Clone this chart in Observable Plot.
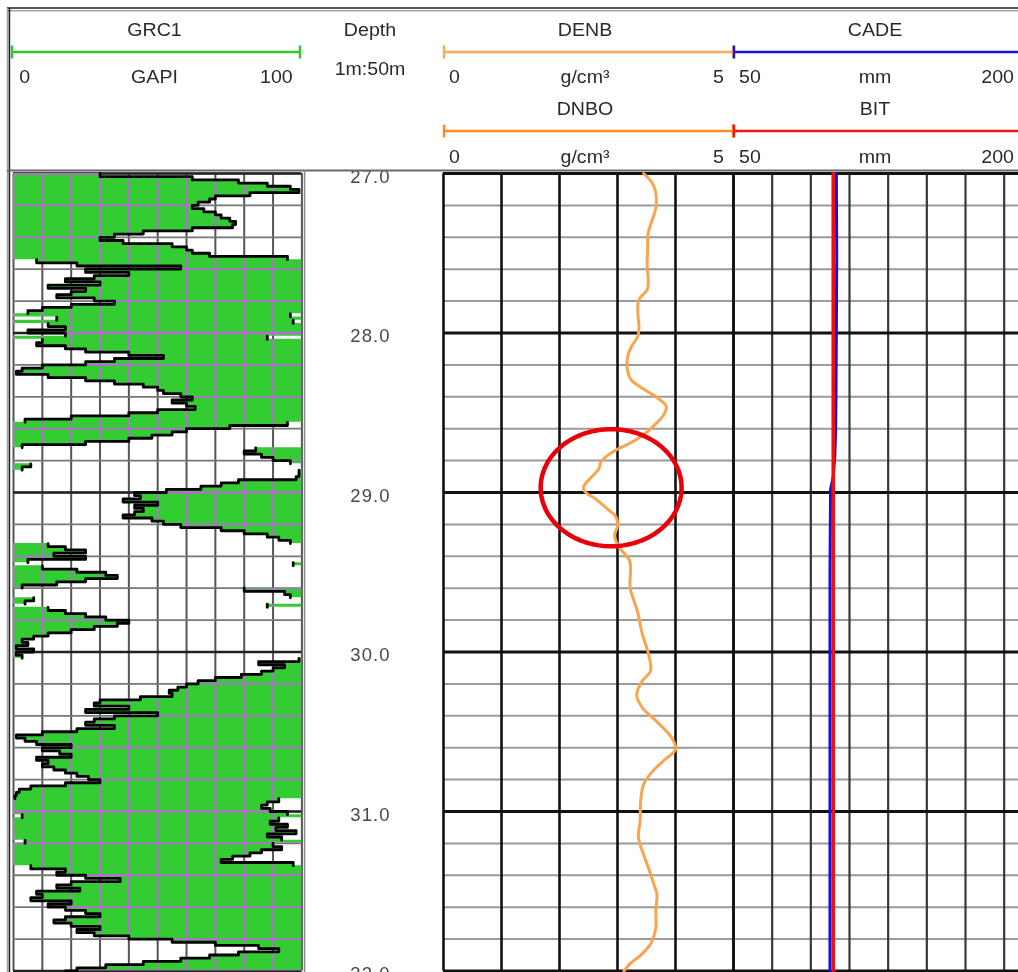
<!DOCTYPE html>
<html>
<head>
<meta charset="utf-8">
<title>GRC1 / DENB / CADE log, 27–32 m</title>
<script src="https://cdn.jsdelivr.net/npm/d3@7"></script>
<script src="https://cdn.jsdelivr.net/npm/@observablehq/plot@0.6"></script>
<style>
  html, body { margin: 0; padding: 0; background: #fff; overflow: hidden; }
  #log { position: relative; width: 1018px; height: 972px; overflow: hidden; background: #fff; }
  #log > svg { position: absolute; }
  #log svg.depth-track text { letter-spacing: 1.1px; }
</style>
</head>
<body>
<div id="log"></div>
<script>
// ---------------------------------------------------------------------------
// Curve data
// ---------------------------------------------------------------------------

// GRC1 gamma ray (GAPI), one sample every 0.02 m starting at 27.00 m.
// Readings above 100 GAPI wrap back across the 0–100 track.
const grTop = 27.0;
const grStep = 0.02;
const grValue = [
  30, 62, 78, 88, 96, 99, 82, 70, 68, 64,          // 27.00
  62, 66, 70, 72, 75, 77, 76, 62, 45, 35,          // 27.20
  30, 38, 55, 60, 62, 68, 95, 108, 122, 158,       // 27.40
  125, 140, 128, 118, 130, 112, 125, 120, 115, 128,// 27.60
  135, 120, 110, 105, 96, 115, 97, 112, 118, 105,  // 27.80
  118, 88, 110, 108, 118, 125, 140, 152, 135, 125, // 28.00
  110, 103, 101, 112, 125, 135, 145, 150, 152, 158,// 28.20
  162, 155, 160, 163, 150, 140, 120, 104, 95, 75,  // 28.40
  60, 55, 48, 40, 25, 3, 184, 180, 186, 190,       // 28.60
  196, 206, 203, 199, 199, 198, 178, 172, 165, 153,// 28.80
  142, 144, 138, 150, 142, 145, 142, 138, 148, 152,// 29.00
  158, 172, 180, 188, 192, 196, 212, 218, 225, 214,// 29.20
  225, 205, 197, 210, 222, 232, 236, 225, 215, 203,// 29.40
  180, 194, 196, 207, 204, 188, 212, 218, 225, 232,// 29.60
  240, 236, 228, 220, 212, 207, 203, 205, 201, 207,// 29.80
  201, 203, 199, 185, 194, 190, 186, 179, 170, 164,// 30.00
  160, 157, 154, 155, 144, 130, 128, 140, 125, 150,// 30.20
  135, 128, 125, 135, 122, 110, 101, 104, 108, 120,// 30.40
  110, 116, 120, 108, 112, 110, 114, 118, 122, 126,// 30.60
  130, 118, 106, 102, 101, 100.5, 92, 88, 86, 89,  // 30.80
  95, 103, 92, 89, 95, 91, 98, 88, 93, 104,        // 31.00
  90, 93, 86, 82, 76, 72, 97, 106, 118, 115,       // 31.20
  125, 137, 120, 115, 123, 108, 110, 106, 120, 112,// 31.40
  118, 125, 130, 118, 114, 120, 130, 122, 128, 140,// 31.60
  155, 170, 185, 192, 178, 168, 158, 145, 132, 122,// 31.80
  118                                              // 32.00
];

// DENB bulk density (g/cm³)
const denbDepth = [27.00, 27.06, 27.12, 27.16, 27.22, 27.29, 27.37, 27.48, 27.58, 27.66,
                   27.73, 27.79, 27.87, 27.96, 28.02, 28.08, 28.14, 28.23, 28.29, 28.34,
                   28.40, 28.46, 28.51, 28.57, 28.63, 28.69, 28.73, 28.77, 28.81, 28.85,
                   28.90, 28.96, 28.99, 29.04, 29.11, 29.15, 29.21, 29.27, 29.34, 29.43,
                   29.60, 29.74, 29.89, 30.02, 30.12, 30.18, 30.27, 30.35, 30.43, 30.54,
                   30.61, 30.68, 30.75, 30.83, 30.93, 31.06, 31.16, 31.27, 31.35, 31.46,
                   31.52, 31.62, 31.73, 31.83, 31.90, 31.96, 32.00];
const denbValue = [3.45, 3.60, 3.66, 3.67, 3.66, 3.60, 3.53, 3.52, 3.51, 3.53,
                   3.51, 3.37, 3.35, 3.37, 3.35, 3.25, 3.18, 3.17, 3.23, 3.40,
                   3.66, 3.84, 3.80, 3.66, 3.48, 3.22, 2.99, 2.82, 2.71, 2.68,
                   2.56, 2.42, 2.43, 2.62, 2.85, 2.97, 3.00, 2.95, 3.02, 3.21,
                   3.22, 3.34, 3.43, 3.54, 3.57, 3.43, 3.33, 3.43, 3.66, 3.94,
                   4.00, 3.80, 3.60, 3.45, 3.40, 3.39, 3.36, 3.45, 3.53, 3.63,
                   3.68, 3.66, 3.66, 3.57, 3.40, 3.20, 3.11];

// CADE caliper (mm)
const cadeDepth = [27.00, 27.50, 28.00, 28.40, 28.63, 28.77, 28.90, 28.98, 29.50, 30.50, 31.50, 32.00];
const cadeValue = [103.2, 103.4, 103.2, 103.0, 102.8, 102.4, 101.6, 100.2, 99.9, 99.9, 99.9, 99.9];

// BIT size (mm)
const bitDepth = [27.00, 32.00];
const bitValue = [101.6, 101.6];

// Depth annotation and grid
const depthLabels = [27, 28, 29, 30, 31, 32];
const depthMinor = d3.range(0, 26).map(i => 27 + i * 0.2);
const grGridX = d3.range(0, 101, 10);
const denbGridX = [0, 1, 2, 3, 4, 5];
const cadeGridX = [70, 90, 110, 130, 150, 170, 190];

// Highlighted low-density interval (centre and half-widths in track units)
const highlight = {denb: 2.89, depth: 28.97, rx: 1.215, ry: 0.367};

// Header entries per curve
const headerCurves = [
  {track: "gr",   row: 0, name: "GRC1", unit: "GAPI",  lo: "0",  hi: "100", color: "#33c633"},
  {track: "denb", row: 0, name: "DENB", unit: "g/cm³", lo: "0",  hi: "5",   color: "#f8a957"},
  {track: "cade", row: 0, name: "CADE", unit: "mm",    lo: "50", hi: "200", color: "#1414e6"},
  {track: "denb", row: 1, name: "DNBO", unit: "g/cm³", lo: "0",  hi: "5",   color: "#ff8a1f"},
  {track: "cade", row: 1, name: "BIT",  unit: "mm",    lo: "50", hi: "200", color: "#f01414"}
];

// ---------------------------------------------------------------------------
// Layout
// ---------------------------------------------------------------------------
const trackX = {gr: [13.3, 301.7], depth: [302, 438], denb: [443, 733], cade: [733, 1023]};
const Y0 = 172.5, Y1 = 970;          // pixel rows of 27 m and 32 m
const mT = 3, mB = 3, mL = 3, mR = 3;
const root = document.getElementById("log");

function addTrack(key, xDomain, marks, background = "transparent", cls = null) {
  const [x0, x1] = trackX[key];
  const svg = Plot.plot({
    width: x1 - x0 + mL + mR,
    height: Y1 - Y0 + mT + mB,
    marginLeft: mL, marginRight: mR, marginTop: mT, marginBottom: mB,
    x: {domain: xDomain, axis: null},
    y: {domain: [27, 32], reverse: true, axis: null},
    marks
  });
  svg.style.left = (x0 - mL) + "px";
  svg.style.top = (Y0 - mT) + "px";
  svg.style.background = background;
  svg.style.maxWidth = "none";
  if (cls) svg.classList.add(cls);
  root.appendChild(svg);
  return svg;
}

// ---------------------------------------------------------------------------
// GR track: wrapped curve with shading, grid tinted where it crosses the fill
// ---------------------------------------------------------------------------
const grRows = grValue.map((v, i) => {
  const wrap = Math.floor(v / 100);
  const x = v - 100 * wrap;
  const odd = wrap % 2 === 1;
  return {depth: grTop + i * grStep, v, wrap, x, left: odd ? x : 0, right: odd ? 100 : x};
});
let seg = 0;
grRows.forEach((r, i) => { if (i && r.wrap !== grRows[i - 1].wrap) seg++; r.seg = seg; });
// Line vertices: each wrap band is drawn on its own, holding its last value to the next sample
const grLine = [];
grRows.forEach((r, i) => {
  grLine.push({depth: r.depth, x: r.x, seg: r.seg});
  const n = grRows[i + 1];
  if (n && n.seg !== r.seg) grLine.push({depth: n.depth, x: r.x, seg: r.seg});
});

const tint = {stroke: "#c040e8", strokeOpacity: 0.85, mixBlendMode: "hue", ariaLabel: "gr-grid-tint"};
const grSvg = addTrack("gr", [0, 100], [
  Plot.ruleX(grGridX, {stroke: "#555", strokeWidth: 2}),
  Plot.ruleY(depthMinor, {stroke: "#777", strokeWidth: 1.8}),
  Plot.ruleY(depthLabels, {stroke: "#222", strokeWidth: 2.6}),
  Plot.areaX(grRows, {y: "depth", x1: "left", x2: "right", fill: "#33cc33", curve: "step-before"}),
  Plot.ruleX(grGridX, {...tint, strokeWidth: 2}),
  Plot.ruleY(depthMinor, {...tint, strokeWidth: 1.8}),
  Plot.ruleY(depthLabels, {...tint, strokeWidth: 2.6}),
  Plot.line(grLine, {x: "x", y: "depth", z: "seg", stroke: "#000", strokeWidth: 2.8, curve: "step-before"})
], "#fff");
grSvg.querySelectorAll('[aria-label="gr-grid-tint"]').forEach(g => { g.style.mixBlendMode = "hue"; });

// ---------------------------------------------------------------------------
// Depth track
// ---------------------------------------------------------------------------
addTrack("depth", [0, 1], [
  Plot.text(depthLabels, {
    x: () => 0.5, y: d => d, text: d => d.toFixed(1),
    fontSize: 18.5, fontFamily: "Liberation Sans, Arial, sans-serif",
    fill: "#484848", dy: 3.5
  })
], "transparent", "depth-track");

// ---------------------------------------------------------------------------
// Density track
// ---------------------------------------------------------------------------
const denbRows = denbDepth.map((d, i) => ({depth: d, v: denbValue[i]}));
const ring = d3.range(0, 361, 4).map(a => ({
  x: highlight.denb + highlight.rx * Math.cos(a * Math.PI / 180),
  y: highlight.depth + highlight.ry * Math.sin(a * Math.PI / 180)
}));
addTrack("denb", [0, 5], [
  Plot.ruleY(depthMinor, {stroke: "#9a9a9a", strokeWidth: 2}),
  Plot.ruleX(denbGridX, {stroke: "#111", strokeWidth: 2.6}),
  Plot.ruleY(depthLabels, {stroke: "#111", strokeWidth: 3}),
  Plot.line(denbRows, {x: "v", y: "depth", stroke: "#f7a54f", strokeWidth: 3, curve: "catmull-rom"}),
  Plot.line(ring, {x: "x", y: "y", stroke: "#e8000a", strokeWidth: 4.5})
]);

// ---------------------------------------------------------------------------
// Caliper / bit track
// ---------------------------------------------------------------------------
const cadeRows = cadeDepth.map((d, i) => ({depth: d, v: cadeValue[i]}));
const bitRows = bitDepth.map((d, i) => ({depth: d, v: bitValue[i]}));
addTrack("cade", [50, 200], [
  Plot.ruleY(depthMinor, {stroke: "#9a9a9a", strokeWidth: 2}),
  Plot.ruleX(cadeGridX, {stroke: "#383838", strokeWidth: 2.2}),
  Plot.ruleX([50], {stroke: "#111", strokeWidth: 2.6}),
  Plot.ruleY(depthLabels, {stroke: "#111", strokeWidth: 3}),
  Plot.line(cadeRows, {x: "v", y: "depth", stroke: "#1212e0", strokeWidth: 3}),
  Plot.line(bitRows, {x: "v", y: "depth", stroke: "#f01010", strokeWidth: 3.6})
]);

// ---------------------------------------------------------------------------
// Header (curve names, scale bars, limits) and frame
// ---------------------------------------------------------------------------
const W = 1018, H = 972;
const ov = d3.create("svg").attr("width", W).attr("height", H)
  .style("left", "0px").style("top", "0px").style("pointer-events", "none");
ov.append("rect").attr("width", W).attr("height", 170).attr("fill", "#fff");

const hline = (x1, x2, y, color, w) => ov.append("line")
  .attr("x1", x1).attr("x2", x2).attr("y1", y).attr("y2", y).attr("stroke", color).attr("stroke-width", w);
const vline = (x, y1, y2, color, w) => ov.append("line")
  .attr("x1", x).attr("x2", x).attr("y1", y1).attr("y2", y2).attr("stroke", color).attr("stroke-width", w);

// frame
hline(7, W, 8, "#1e1e1e", 1.6);
hline(7, W, 10.8, "#a4a4a4", 1.4);
vline(7.4, 8, H, "#a4a4a4", 1.3);
vline(9.4, 8, H, "#1e1e1e", 1.6);
hline(7, W, 170.4, "#6a6a6a", 2);
vline(304.6, 170, H, "#8c8c8c", 1.6);

const font = "Liberation Sans, Arial, sans-serif";
function label(text, x, y, anchor) {
  ov.append("text")
    .attr("transform", `translate(${x},${y}) scale(1.12,1)`)
    .attr("text-anchor", anchor)
    .attr("font-family", font).attr("font-size", 17.5).attr("fill", "#2a2a2a")
    .text(text);
}

const rows = [{name: 36, bar: 52, lim: 83}, {name: 115, bar: 131, lim: 163}];
for (const c of headerCurves) {
  const [x0, x1] = trackX[c.track];
  const r = rows[c.row];
  const cx = (x0 + x1) / 2 - 3;
  label(c.name, cx, r.name, "middle");
  const bx0 = x0 + (c.track === "gr" ? -1.3 : 1), bx1 = x1 - (c.track === "gr" ? 1.7 : 0);
  hline(bx0, bx1, r.bar, c.color, 2.6);
  vline(bx0, r.bar - 6.5, r.bar + 6.5, c.color, 2.4);
  vline(bx1, r.bar - 6.5, r.bar + 6.5, c.color, 2.4);
  label(c.lo, x0 + 6, r.lim, "start");
  label(c.unit, cx, r.lim, "middle");
  label(c.hi, x1 - 9, r.lim, "end");
}
label("Depth", 370, 36, "middle");
label("1m:50m", 370, 75, "middle");

root.appendChild(ov.node());
</script>
</body>
</html>
